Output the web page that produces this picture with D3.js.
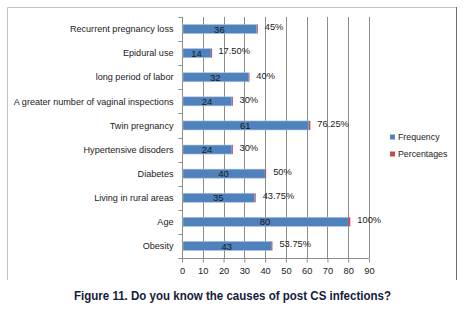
<!DOCTYPE html>
<html>
<head>
<meta charset="utf-8">
<script src="https://cdn.jsdelivr.net/npm/d3@7"></script>
<style>
  body { margin: 0; background: #fff; }
  svg text { font-family: "Liberation Sans", Arial, sans-serif; }
</style>
</head>
<body>
<svg id="chart" width="464" height="324"></svg>
<script>
// Chart data
const categories = [
    "Recurrent pregnancy loss",
    "Epidural use",
    "long period of labor",
    "A greater number of vaginal inspections",
    "Twin pregnancy",
    "Hypertensive disoders",
    "Diabetes",
    "Living in rural areas",
    "Age",
    "Obesity"
];
const frequency = [36, 14, 32, 24, 61, 24, 40, 35, 80, 43];
const percentages = [0.45, 0.175, 0.40, 0.30, 0.7625, 0.30, 0.50, 0.4375, 1.00, 0.5375];
const percentLabels = ["45%", "17.50%", "40%", "30%", "76.25%", "30%", "50%", "43.75%", "100%", "53.75%"];
const xTicks = [0, 10, 20, 30, 40, 50, 60, 70, 80, 90];
const seriesNames = ["Frequency", "Percentages"];

const blue = "#4f81bd";
const red = "#c0504d";

const svg = d3.select("#chart");

// outer box
svg.append("line").attr("x1", 7.5).attr("y1", 7.5).attr("x2", 457).attr("y2", 7.5)
    .attr("stroke", "#c4c4c4");
svg.append("line").attr("x1", 7.5).attr("y1", 7.5).attr("x2", 7.5).attr("y2", 280)
    .attr("stroke", "#c4c4c4");
svg.append("line").attr("x1", 456.5).attr("y1", 7).attr("x2", 456.5).attr("y2", 280)
    .attr("stroke", "#6e6e6e");

const plot = { left: 182, right: 369, top: 17, bottom: 258 };

const xScale = d3.scaleLinear().domain([0, 90]).range([plot.left, plot.right]);
const yScale = d3.scaleBand().domain(categories).range([plot.top, plot.bottom]);

const g = svg.append("g");

// vertical gridlines
g.selectAll(".grid")
    .data(xTicks.slice(1))
    .enter()
    .append("line")
    .attr("x1", d => Math.round(xScale(d)) + 0.5)
    .attr("x2", d => Math.round(xScale(d)) + 0.5)
    .attr("y1", plot.top)
    .attr("y2", plot.bottom)
    .attr("stroke", "#8c8c8c")
    .attr("stroke-width", 1);

// x axis
const xAxis = d3.axisBottom(xScale).tickValues(xTicks).tickSize(4).tickFormat(d3.format("d"));
const xg = svg.append("g")
    .attr("transform", `translate(0, ${plot.bottom + 0.5})`)
    .call(xAxis);
xg.select(".domain").attr("stroke", "#8c8c8c").attr("d", `M${plot.left},0H${plot.right}`);
xg.selectAll(".tick line").attr("stroke", "#8c8c8c");
xg.selectAll(".tick text").attr("font-size", 9.3).attr("fill", "#222").attr("dy", "0.9em");

// y axis
const yg = svg.append("g").attr("transform", `translate(${plot.left + 0.5}, 0)`);
yg.append("line").attr("x1", 0).attr("x2", 0).attr("y1", plot.top).attr("y2", plot.bottom)
    .attr("stroke", "#8c8c8c");
const bounds = categories.map(c => yScale(c)).concat([plot.bottom]);
yg.selectAll(".ytick")
    .data(bounds)
    .enter()
    .append("line")
    .attr("x1", -4).attr("x2", 0)
    .attr("y1", d => Math.round(d) + 0.5).attr("y2", d => Math.round(d) + 0.5)
    .attr("stroke", "#8c8c8c");
yg.selectAll(".ylabel")
    .data(categories)
    .enter()
    .append("text")
    .attr("x", -9)
    .attr("y", d => yScale(d) + yScale.bandwidth() / 2)
    .attr("dy", "0.35em")
    .attr("text-anchor", "end")
    .attr("font-size", 9.1)
    .attr("fill", "#222")
    .text(d => d);

// bars
const barH = 9;
const rows = categories.map((c, i) => ({
    cat: c, f: frequency[i], p: percentages[i], label: percentLabels[i]
}));

const bars = svg.append("g");
bars.selectAll(".fbar")
    .data(rows)
    .enter()
    .append("rect")
    .attr("x", xScale(0) + 1)
    .attr("y", d => yScale(d.cat) + yScale.bandwidth() / 2 - barH / 2)
    .attr("width", d => xScale(d.f) - xScale(0) - 1)
    .attr("height", barH)
    .attr("fill", blue)
    .attr("stroke", "#a7c0de")
    .attr("stroke-width", 0.6);

bars.selectAll(".pbar")
    .data(rows)
    .enter()
    .append("rect")
    .attr("x", d => xScale(d.f))
    .attr("y", d => yScale(d.cat) + yScale.bandwidth() / 2 - barH / 2)
    .attr("width", d => Math.max(1, xScale(d.f + d.p) - xScale(d.f)))
    .attr("height", barH)
    .attr("fill", red);

// frequency labels centred in the bar
bars.selectAll(".flabel")
    .data(rows)
    .enter()
    .append("text")
    .attr("x", d => (xScale(0) + xScale(d.f)) / 2)
    .attr("y", d => yScale(d.cat) + yScale.bandwidth() / 2)
    .attr("dy", "0.38em")
    .attr("text-anchor", "middle")
    .attr("font-size", 9.5)
    .attr("fill", "#1a1a1a")
    .text(d => d.f);

// percentage labels right of the bar
bars.selectAll(".plabel")
    .data(rows)
    .enter()
    .append("text")
    .attr("x", d => xScale(d.f + d.p) + 7)
    .attr("y", d => yScale(d.cat) + yScale.bandwidth() / 2 - 2)
    .attr("dy", "0.35em")
    .attr("font-size", 9.3)
    .attr("fill", "#1a1a1a")
    .text(d => d.label);

// legend
const legend = svg.append("g").attr("transform", "translate(390, 137)");
const lg = legend.selectAll(".item")
    .data(seriesNames)
    .enter()
    .append("g")
    .attr("transform", (d, i) => `translate(0, ${i * 17})`);
lg.append("rect")
    .attr("x", 0).attr("y", -2.5)
    .attr("width", 5).attr("height", 5)
    .attr("fill", (d, i) => i === 0 ? blue : red);
lg.append("text")
    .attr("x", 8).attr("y", 0).attr("dy", "0.35em")
    .attr("font-size", 8.8)
    .attr("fill", "#222")
    .text(d => d);

// caption
svg.append("text")
    .attr("x", 74)
    .attr("y", 300)
    .attr("textLength", 317)
    .attr("lengthAdjust", "spacingAndGlyphs")
    .attr("font-family", "Roboto, sans-serif")
    .attr("font-weight", "bold")
    .attr("font-size", 13.5)
    .attr("fill", "#14203a")
    .text("Figure 11. Do you know the causes of post CS infections?");
</script>
</body>
</html>
